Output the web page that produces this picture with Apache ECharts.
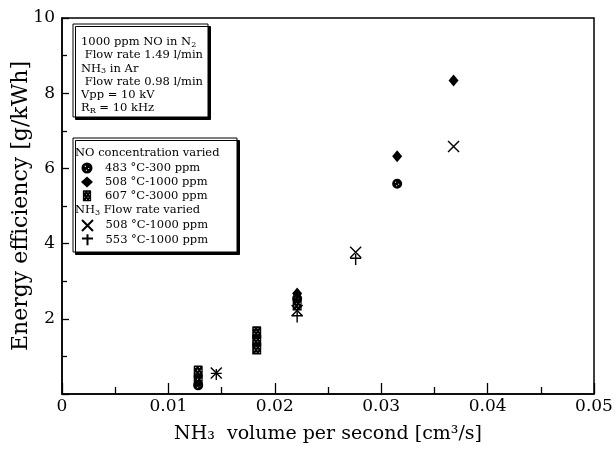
<!DOCTYPE html>
<html><head><meta charset="utf-8">
<script src="https://cdn.jsdelivr.net/npm/echarts@6/dist/echarts.min.js"></script>
<style>html,body{margin:0;padding:0;background:#fff}#c{width:615px;height:457px}</style>
</head><body><div id="c"></div>
<script>
// ---- data ----
const xTickLabels = ['0', '0.01', '0.02', '0.03', '0.04', '0.05'];
const yTickLabels = ['', '2', '4', '6', '8', '10'];
const legendNames = ['483 °C-300 ppm', '508 °C-1000 ppm', '607 °C-3000 ppm', '508 °C-1000 ppm ', '553 °C-1000 ppm'];
const s483 = [[0.0128, 0.23], [0.0221, 2.54], [0.0315, 5.59]];
const s508 = [[0.0221, 2.67], [0.0315, 6.32], [0.0368, 8.34]];
const s607 = [[0.0128, 0.60], [0.0128, 0.36], [0.0183, 1.64], [0.0183, 1.42], [0.0183, 1.21], [0.0221, 2.38]];
const x508 = [[0.0145, 0.56], [0.0221, 2.22], [0.0276, 3.77], [0.0368, 6.58]];
const p553 = [[0.0145, 0.52], [0.0221, 2.05], [0.0276, 3.58]];

// ---- symbols ----
function meshPath() {
  let p = 'M0,1 Q0,0 1,0 L8,0 Q9,0 9,1 L9,12 L0,12 Z';
  for (let r = 0; r < 4; r++) {
    const y = 1.6 + r * 2.7;
    const off = (r % 2) ? 3.4 : 1.6;
    for (let x = off; x < 8; x += 3.6) {
      p += ` M${x},${y} L${x},${y + 0.9} L${x + 0.9},${y + 0.9} L${x + 0.9},${y} Z`;
    }
  }
  return 'path://' + p;
}
const circleSym = 'path://M0,5 A5,5 0 1,1 10,5 A5,5 0 1,1 0,5 Z M3,3 L3,4 L4,4 L4,3 Z M6,5 L6,6 L7,6 L7,5 Z M4,6.5 L4,7.5 L5,7.5 L5,6.5 Z';
const crossSym = 'path://M0,0 L10,10 M10,0 L0,10';
const plusSym = 'path://M5,0 L5,10 M0,4 L10,4';

const FONT = 'DejaVu Serif';
const chart = echarts.init(document.getElementById('c'), null, {renderer: 'canvas'});

const rich = {
  a: {fontFamily: FONT, fontSize: 11.5, color: '#000', lineHeight: 13.3},
  s: {fontFamily: FONT, fontSize: 8, color: '#000', lineHeight: 13.3, verticalAlign: 'bottom'}
};
const legendText = {fontFamily: FONT, fontSize: 11.5, color: '#000', padding: [0, 0, 0, 7]};

chart.setOption({
  animation: false,
  backgroundColor: '#fff',
  grid: {left: 62, right: 21, top: 18, bottom: 63, show: true, borderColor: '#000', borderWidth: 1.5,
         backgroundColor: 'transparent', outerBoundsMode: 'none', containLabel: false},
  xAxis: {
    type: 'value', min: 0, max: 0.05, interval: 0.01,
    name: 'NH₃  volume per second [cm³/s]', nameLocation: 'middle', nameGap: 31,
    nameTextStyle: {fontFamily: FONT, fontSize: 19, color: '#000'},
    axisLine: {show: true, lineStyle: {color: '#000', width: 1.5}},
    axisTick: {show: true, inside: true, length: 11, lineStyle: {color: '#000', width: 1.3}},
    minorTick: {show: true, splitNumber: 2, length: 7, lineStyle: {color: '#000', width: 1.3}},
    splitLine: {show: false}, minorSplitLine: {show: false},
    axisLabel: {margin: 4, fontFamily: FONT, fontSize: 17, color: '#000',
      formatter: (v) => xTickLabels[Math.round(v / 0.01)]}
  },
  yAxis: {
    type: 'value', min: 0, max: 10, interval: 2,
    name: 'Energy efficiency [g/kWh]', nameLocation: 'middle', nameGap: 30, nameMoveOverlap: false,
    nameTextStyle: {fontFamily: FONT, fontSize: 22, color: '#000'},
    axisLine: {show: true, lineStyle: {color: '#000', width: 1.5}},
    axisTick: {show: true, inside: true, length: 7, lineStyle: {color: '#000', width: 1.3}},
    minorTick: {show: true, splitNumber: 2, length: 5, lineStyle: {color: '#000', width: 1.3}},
    splitLine: {show: false}, minorSplitLine: {show: false},
    axisLabel: {margin: 7, fontFamily: FONT, fontSize: 17, color: '#000',
      formatter: (v) => yTickLabels[Math.round(v / 2)]}
  },
  legend: [
    {data: legendNames.slice(0, 3), orient: 'vertical', left: 81, top: 162, padding: 0, itemGap: 1.9,
     itemWidth: 12, itemHeight: 11, selectedMode: false, z: 10, textStyle: legendText},
    {data: legendNames.slice(3, 5), orient: 'vertical', left: 81, top: 219, padding: 0, itemGap: 1.2,
     itemWidth: 12, itemHeight: 11, selectedMode: false, z: 10, textStyle: legendText}
  ],
  graphic: [
    {type: 'rect', z: 5, shape: {x: 73, y: 24, width: 135, height: 93},
     style: {fill: '#fff', stroke: '#000', lineWidth: 1, shadowColor: '#000', shadowOffsetX: 2.5, shadowOffsetY: 2.5, shadowBlur: 0}},
    {type: 'text', z: 6, left: 81, top: 36, style: {
      text: '{a|1000 ppm NO in N}{s|2}\n{a| Flow rate 1.49 l/min}\n{a|NH}{s|3}{a| in Ar}\n{a| Flow rate 0.98 l/min}\n{a|Vpp = 10 kV}\n{a|R}{s|R}{a| = 10 kHz}',
      rich: rich}},
    {type: 'rect', z: 5, shape: {x: 73, y: 138, width: 164, height: 114},
     style: {fill: '#fff', stroke: '#000', lineWidth: 1, shadowColor: '#000', shadowOffsetX: 2.5, shadowOffsetY: 2.5, shadowBlur: 0}},
    {type: 'text', z: 6, left: 75, top: 147, style: {text: '{a|NO concentration varied}', rich: rich}},
    {type: 'text', z: 6, left: 75, top: 204, style: {text: '{a|NH}{s|3}{a| Flow rate varied}', rich: rich}}
  ],
  series: [
    {name: legendNames[0], type: 'scatter', data: s483, symbol: circleSym, symbolSize: 10,
     itemStyle: {color: '#000', opacity: 1}},
    {name: legendNames[1], type: 'scatter', data: s508, symbol: 'diamond', symbolSize: [10, 12],
     itemStyle: {color: '#000', opacity: 1}},
    {name: legendNames[2], type: 'scatter', data: s607, symbol: meshPath(), symbolSize: [9, 12],
     itemStyle: {color: '#000', opacity: 1}},
    {name: legendNames[3], type: 'scatter', data: x508, symbol: crossSym, symbolSize: 11,
     itemStyle: {color: '#000', borderColor: '#000', borderWidth: 1.4, opacity: 1}},
    {name: legendNames[4], type: 'scatter', data: p553, symbol: plusSym, symbolSize: 11,
     itemStyle: {color: '#000', borderColor: '#000', borderWidth: 1.4, opacity: 1}}
  ]
});
</script></body></html>
